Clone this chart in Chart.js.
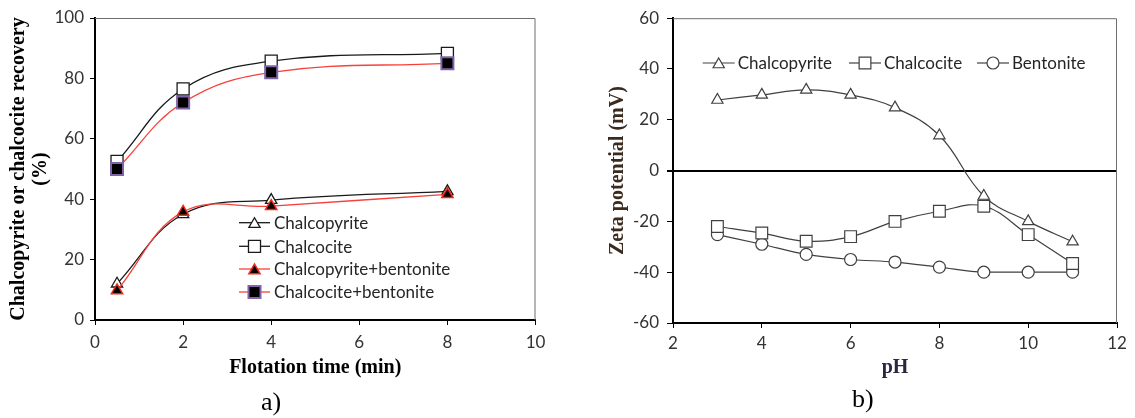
<!DOCTYPE html>
<html><head><meta charset="utf-8">
<script src="https://cdn.jsdelivr.net/npm/chart.js@4.4.0/dist/chart.umd.min.js"></script>
<style>
html,body{margin:0;padding:0;background:#fff;width:1135px;height:418px;overflow:hidden;position:relative;}
#wa{position:absolute;left:0;top:0;width:560px;height:390px;}
#wb{position:absolute;left:570px;top:0;width:565px;height:390px;}
.cap{position:absolute;font-family:"Liberation Serif","Times New Roman",serif;font-size:26px;color:#000;line-height:26px;white-space:nowrap;}
</style></head><body>
<div id="wa"><canvas id="ca"></canvas></div>
<div id="wb"><canvas id="cb"></canvas></div>
<div class="cap" style="left:261px;top:389px;">a)</div>
<div class="cap" style="left:852px;top:386px;">b)</div>
<script>
// ---- Chart a) data ----
const timeMin = [0.5, 2, 4, 8];
const recChalcopyrite = [12, 35, 39.7, 42.6];
const recChalcocite = [52.5, 76.5, 85.7, 88.3];
const recChalcopyriteBent = [9.8, 35.8, 37.7, 41.6];
const recChalcociteBent = [50, 72, 82, 85];
const xTicksA = [0, 2, 4, 6, 8, 10];
const yTicksA = [0, 20, 40, 60, 80, 100];
const labelsA = ['Chalcopyrite', 'Chalcocite', 'Chalcopyrite+bentonite', 'Chalcocite+bentonite'];

// ---- Chart b) data ----
const pH = [3, 4, 5, 6, 7, 8, 9, 10, 11];
const zetaChalcopyrite = [27.8, 29.8, 31.8, 29.8, 24.8, 13.8, -10, -20, -28];
const zetaChalcocite = [-22, -24.6, -27.8, -26, -20, -16, -14, -25.2, -36.6];
const zetaBentonite = [-25.2, -29, -33, -35, -36, -38, -40, -40, -40];
const xTicksB = [2, 4, 6, 8, 10, 12];
const yTicksB = [-60, -40, -20, 0, 20, 40, 60];
const labelsB = ['Chalcopyrite', 'Chalcocite', 'Bentonite'];

const pts = (xs, ys) => xs.map((x, i) => ({x: x, y: ys[i]}));

const SANS = 'Lato, "Open Sans", sans-serif';
const SERIF = '"Liberation Serif", "Times New Roman", serif';
Chart.defaults.font.family = SANS;
Chart.defaults.animation = false;

function drawMarker(ctx, style, x, y, r, fill, stroke, lw) {
  ctx.save();
  ctx.beginPath();
  if (style === 'triangle') {
    let rad = 0;
    ctx.moveTo(x + Math.sin(rad) * r, y - Math.cos(rad) * r);
    rad += 2 * Math.PI / 3;
    ctx.lineTo(x + Math.sin(rad) * r, y - Math.cos(rad) * r);
    rad += 2 * Math.PI / 3;
    ctx.lineTo(x + Math.sin(rad) * r, y - Math.cos(rad) * r);
    ctx.closePath();
  } else if (style === 'rect') {
    const s = Math.SQRT1_2 * r;
    ctx.rect(x - s, y - s, 2 * s, 2 * s);
  } else {
    ctx.arc(x, y, r, 0, Math.PI * 2);
  }
  ctx.fillStyle = fill; ctx.fill();
  ctx.lineWidth = lw; ctx.strokeStyle = stroke; ctx.stroke();
  ctx.restore();
}

const framePlugin = {
  id: 'frame',
  beforeDatasetsDraw(chart) {
    const {ctx, chartArea: a} = chart;
    ctx.save();
    ctx.strokeStyle = '#6e6e6e'; ctx.lineWidth = 1;
    ctx.beginPath();
    ctx.moveTo(a.left, a.top + 0.5);
    ctx.lineTo(a.right - 0.5, a.top + 0.5);
    ctx.lineTo(a.right - 0.5, a.bottom);
    ctx.stroke();
    ctx.restore();
  }
};

const legendPlugin = {
  id: 'mlegend',
  afterDatasetsDraw(chart, args, opts) {
    const ctx = chart.ctx;
    opts.items.forEach((it, i) => {
      const ds = chart.data.datasets[i];
      ctx.save();
      ctx.strokeStyle = ds.borderColor; ctx.lineWidth = ds.borderWidth;
      ctx.beginPath(); ctx.moveTo(it.x, it.y); ctx.lineTo(it.x + opts.lineLen, it.y); ctx.stroke();
      drawMarker(ctx, ds.pointStyle, it.x + opts.lineLen / 2, it.y + (ds.pointStyle === 'triangle' ? 1.5 : 0), ds.pointRadius,
                 ds.pointBackgroundColor, ds.pointBorderColor, ds.pointBorderWidth);
      ctx.fillStyle = opts.color;
      ctx.font = opts.font;
      ctx.textBaseline = 'middle'; ctx.textAlign = 'left';
      ctx.fillText(ds.label, it.x + opts.lineLen + opts.gap, it.y + 1);
      ctx.restore();
    });
  }
};

function ds(label, xs, ys, o) {
  return Object.assign({label: label, data: pts(xs, ys), tension: 0.4, fill: false}, o);
}

const tickFont = {family: SANS, size: 17};
const titleFont = {family: SERIF, size: 20, weight: 'bold', lineHeight: 1.1};

// ---------- Chart a ----------
new Chart(document.getElementById('ca'), {
  type: 'line',
  data: {datasets: [
    ds(labelsA[0], timeMin, recChalcopyrite, {borderColor: '#1a1a1a', borderWidth: 1.3, pointStyle: 'triangle', pointRadius: 6.5,
      pointBackgroundColor: '#fff', pointBorderColor: '#1a1a1a', pointBorderWidth: 1.3, order: 2}),
    ds(labelsA[1], timeMin, recChalcocite, {borderColor: '#1a1a1a', borderWidth: 1.3, pointStyle: 'rect', pointRadius: 8.5,
      pointBackgroundColor: '#fff', pointBorderColor: '#1a1a1a', pointBorderWidth: 1.3, order: 2}),
    ds(labelsA[2], timeMin, recChalcopyriteBent, {borderColor: '#f8403a', borderWidth: 1.3, pointStyle: 'triangle', pointRadius: 6.5,
      pointBackgroundColor: '#000', pointBorderColor: '#f02a1a', pointBorderWidth: 1.5, order: 1}),
    ds(labelsA[3], timeMin, recChalcociteBent, {borderColor: '#f8403a', borderWidth: 1.3, pointStyle: 'rect', pointRadius: 8.5,
      pointBackgroundColor: '#000', pointBorderColor: '#8064a8', pointBorderWidth: 2, order: 1})
  ]},
  options: {
    responsive: true, maintainAspectRatio: false,
    layout: {padding: {left: 0, right: 24.5, top: 18, bottom: 0}},
    plugins: {legend: {display: false}, tooltip: {enabled: false},
      mlegend: {items: [{x: 239, y: 222.7}, {x: 239, y: 246.3}, {x: 239, y: 269}, {x: 239, y: 292}],
        lineLen: 31, gap: 4, font: '17px ' + SANS, color: '#262626'}},
    scales: {
      x: {type: 'linear', min: 0, max: 10,
        afterBuildTicks: s => { s.ticks = xTicksA.map(v => ({value: v})); },
        afterFit: s => { s.height = 70; },
        ticks: {font: tickFont, color: '#333', padding: 7, maxRotation: 0},
        grid: {drawOnChartArea: false, color: '#000', tickColor: '#000', tickLength: 5},
        border: {color: '#000', width: 2},
        title: {display: true, text: 'Flotation time (min)', font: titleFont, color: '#000', padding: {top: 0, bottom: 11}}},
      y: {type: 'linear', min: 0, max: 100,
        afterBuildTicks: s => { s.ticks = yTicksA.map(v => ({value: v})); },
        afterFit: s => { s.width = 95; },
        ticks: {font: tickFont, color: '#333', padding: 6},
        grid: {drawOnChartArea: false, color: '#000', tickColor: '#000', tickLength: 5},
        border: {color: '#000', width: 2},
        title: {display: true, text: ['Chalcopyrite or chalcocite recovery', '(%)'], font: titleFont, color: '#000', padding: {top: 8, bottom: 0}}}
    }
  },
  plugins: [framePlugin, legendPlugin]
});

// ---------- Chart b ----------
const grayB = '#404040';
new Chart(document.getElementById('cb'), {
  type: 'line',
  data: {datasets: [
    ds(labelsB[0], pH, zetaChalcopyrite, {borderColor: grayB, borderWidth: 1.2, pointStyle: 'triangle', pointRadius: 6.5,
      pointBackgroundColor: '#fff', pointBorderColor: grayB, pointBorderWidth: 1.2}),
    ds(labelsB[1], pH, zetaChalcocite, {borderColor: grayB, borderWidth: 1.2, pointStyle: 'rect', pointRadius: 8.3,
      pointBackgroundColor: '#fff', pointBorderColor: grayB, pointBorderWidth: 1.2}),
    ds(labelsB[2], pH, zetaBentonite, {borderColor: grayB, borderWidth: 1.2, pointStyle: 'circle', pointRadius: 6,
      pointBackgroundColor: '#fff', pointBorderColor: grayB, pointBorderWidth: 1.2, cubicInterpolationMode: 'monotone'})
  ]},
  options: {
    responsive: true, maintainAspectRatio: false,
    layout: {padding: {left: 0, right: 18, top: 17, bottom: 0}},
    plugins: {legend: {display: false}, tooltip: {enabled: false},
      mlegend: {items: [{x: 132.7, y: 63}, {x: 279, y: 63}, {x: 407, y: 63}],
        lineLen: 32, gap: 3, font: '17px ' + SANS, color: '#262626'}},
    scales: {
      x: {type: 'linear', min: 2, max: 12,
        afterBuildTicks: s => { s.ticks = xTicksB.map(v => ({value: v})); },
        afterFit: s => { s.height = 67; },
        ticks: {font: tickFont, color: '#333', padding: 5, maxRotation: 0},
        grid: {drawOnChartArea: false, color: '#000', tickColor: '#000', tickLength: 5},
        border: {color: '#000', width: 2},
        title: {display: true, text: 'pH', font: titleFont, color: '#2a2740', padding: {top: 0, bottom: 11}}},
      y: {type: 'linear', min: -60, max: 60,
        afterBuildTicks: s => { s.ticks = yTicksB.map(v => ({value: v})); },
        afterFit: s => { s.width = 103; },
        ticks: {font: tickFont, color: '#333', padding: 8},
        grid: {drawOnChartArea: true,
          color: c => (c.tick && c.tick.value === 0) ? '#000' : 'rgba(0,0,0,0)',
          lineWidth: c => (c.tick && c.tick.value === 0) ? 2 : 1,
          tickColor: '#000', tickLength: 6},
        border: {color: '#000', width: 2},
        title: {display: true, text: 'Zeta potential (mV)', font: titleFont, color: '#3b2a1e', padding: {top: 37, bottom: 0}}}
    }
  },
  plugins: [framePlugin, legendPlugin]
});
</script>
</body></html>
